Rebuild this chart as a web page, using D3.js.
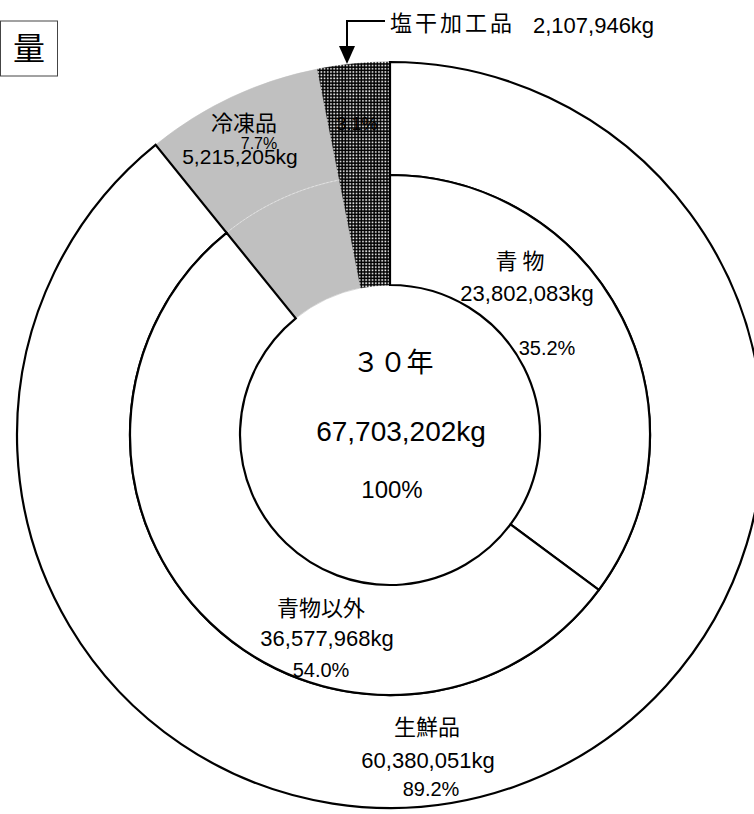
<!DOCTYPE html>
<html>
<head>
<meta charset="utf-8">
<script src="https://cdn.jsdelivr.net/npm/d3@7"></script>
<style>
  body { margin: 0; background: #fff; }
  text { font-family: "Liberation Sans", "Noto Sans CJK JP", sans-serif; fill: #000; }
  .jp { font-family: "Noto Sans CJK JP", sans-serif; }
</style>
</head>
<body>
<div id="main"></div>
<script>
// 外側: 区分, 内側: 生鮮品の内訳
const outerNames = ['生鮮品', '冷凍品', '塩干加工品'];
const outerValues = [60380051, 5215205, 2107946];
const outerPct = ['89.2%', '7.7%', '3.1%'];

const innerNames = ['青物', '青物以外', '冷凍品', '塩干加工品'];
const innerValues = [23802083, 36577968, 5215205, 2107946];
const innerPct = ['35.2%', '54.0%', '7.7%', '3.1%'];

const totalLabel = ['３０年', '67,703,202kg', '100%'];

const W = 754, H = 814;
const cx = 390, cy = 435;
const rIn = 150, rMid = 260, rOut = 373;

const fmt = d3.format(',');

const fillOf = name => name === '冷凍品' ? '#c0c0c0'
    : name === '塩干加工品' ? 'url(#dots)' : '#ffffff';

const svg = d3.select('#main').append('svg')
    .attr('width', W)
    .attr('height', H);

const pat = svg.append('defs').append('pattern')
    .attr('id', 'dots')
    .attr('width', 3.2).attr('height', 3.2)
    .attr('patternUnits', 'userSpaceOnUse');
pat.append('rect').attr('width', 3.2).attr('height', 3.2).attr('fill', '#000');
pat.append('rect').attr('x', 1).attr('y', 1).attr('width', 1.6).attr('height', 1.6).attr('fill', '#fff');

const pie = d3.pie().sort(null).value(d => d);
const outerArc = d3.arc().innerRadius(rMid).outerRadius(rOut);
const innerArc = d3.arc().innerRadius(rIn).outerRadius(rMid);

const g = svg.append('g').attr('transform', 'translate(' + cx + ',' + cy + ')');

const outerData = pie(outerValues).map((d, i) => Object.assign(d, { name: outerNames[i] }));
const innerData = pie(innerValues).map((d, i) => Object.assign(d, { name: innerNames[i] }));

const isWhite = d => d.name !== '冷凍品' && d.name !== '塩干加工品';

// 色付き部分を先に(枠線なし)
g.selectAll('path.fillseg')
    .data(outerData.filter(d => !isWhite(d)).map(d => ({ d, a: outerArc }))
        .concat(innerData.filter(d => !isWhite(d)).map(d => ({ d, a: innerArc }))))
    .enter()
    .append('path')
    .attr('class', 'fillseg')
    .attr('d', o => o.a(o.d))
    .attr('fill', o => fillOf(o.d.name))
    .attr('stroke', o => fillOf(o.d.name))
    .attr('stroke-width', 0.6);

// 冷凍品の中の薄い境界線
const grey = outerData.find(d => d.name === '冷凍品');
g.append('path')
    .attr('d', d3.arc().innerRadius(rMid).outerRadius(rMid)(grey))
    .attr('fill', 'none')
    .attr('stroke', '#e8e8e8')
    .attr('stroke-width', 0.8)
    .attr('stroke-dasharray', '2,2');

// 白い部分は黒枠
g.selectAll('path.whiteseg')
    .data(outerData.filter(isWhite).map(d => ({ d, a: outerArc }))
        .concat(innerData.filter(isWhite).map(d => ({ d, a: innerArc }))))
    .enter()
    .append('path')
    .attr('class', 'whiteseg')
    .attr('d', o => o.a(o.d))
    .attr('fill', '#fff')
    .attr('stroke', '#000')
    .attr('stroke-width', 2.2)
    .attr('stroke-linejoin', 'miter');

// ラベル
const label = (x, y, txt, size, cls) => svg.append('text')
    .attr('x', x).attr('y', y)
    .attr('text-anchor', 'middle')
    .attr('font-size', size)
    .attr('class', cls || null)
    .text(txt);

label(244, 131, outerNames[1], 22, 'jp');
label(259, 149, outerPct[1], 16);
label(240, 164, fmt(outerValues[1]) + 'kg', 21);
label(357, 130, outerPct[2], 18);

label(520, 269, '青 物', 22, 'jp');
label(527, 301, fmt(innerValues[0]) + 'kg', 22);
label(547, 355, innerPct[0], 20);

label(321, 616, innerNames[1], 22, 'jp');
label(327, 646, fmt(innerValues[1]) + 'kg', 22);
label(321, 677, innerPct[1], 20);

label(427, 735, outerNames[0], 22, 'jp');
label(428, 768, fmt(outerValues[0]) + 'kg', 22);
label(431, 796, outerPct[0], 20);

label(393, 372, totalLabel[0], 27, 'jp');
label(401, 441, totalLabel[1], 28);
label(392, 498, totalLabel[2], 24);

// 塩干加工品の引き出し
svg.append('path')
    .attr('d', 'M385,21H347V48')
    .attr('fill', 'none')
    .attr('stroke', '#000')
    .attr('stroke-width', 2);
svg.append('path')
    .attr('d', 'M339,46H355L347,64Z')
    .attr('fill', '#000');
svg.append('text')
    .attr('x', 390).attr('y', 31)
    .attr('font-size', 22)
    .attr('class', 'jp')
    .attr('letter-spacing', 3)
    .text(outerNames[2]);
svg.append('text')
    .attr('x', 533).attr('y', 33)
    .attr('font-size', 22)
    .text(fmt(outerValues[2]) + 'kg');

// 「量」
svg.append('rect')
    .attr('x', 0.5).attr('y', 21)
    .attr('width', 57).attr('height', 55)
    .attr('fill', '#fff')
    .attr('stroke', '#444')
    .attr('stroke-width', 1);
svg.append('text')
    .attr('x', 29).attr('y', 60)
    .attr('text-anchor', 'middle')
    .attr('font-size', 32)
    .attr('class', 'jp')
    .text('量');
</script>
</body>
</html>
